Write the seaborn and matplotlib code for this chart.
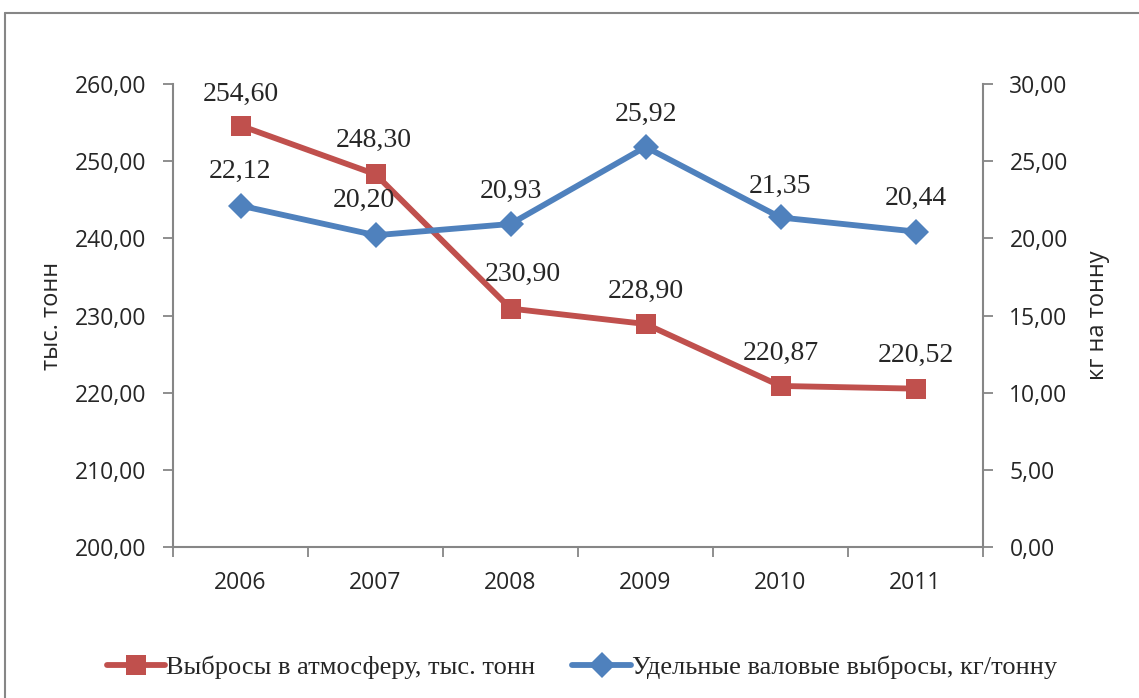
import pandas as pd
import numpy as np
import matplotlib
matplotlib.use("Agg")
import matplotlib.pyplot as plt
from matplotlib.ticker import FuncFormatter, FixedLocator
from matplotlib.lines import Line2D
import seaborn as sns

years = ["2006", "2007", "2008", "2009", "2010", "2011"]
emissions = [254.60, 248.30, 230.90, 228.90, 220.87, 220.52]   # тыс. тонн
specific = [22.12, 20.20, 20.93, 25.92, 21.35, 20.44]          # кг/тонну

label_red = "Выбросы в атмосферу, тыс. тонн"
label_blue = "Удельные валовые выбросы, кг/тонну"

red = "#C0504D"
blue = "#4F81BD"
grey = "#868686"

sns.set_style("white")
plt.rcParams['font.family'] = ['Open Sans', 'DejaVu Sans']

df = pd.DataFrame({"pos": np.arange(len(years)), "year": years,
                   "emissions": emissions, "specific": specific})

fig = plt.figure(figsize=(11.39, 6.98), dpi=100)
ax = fig.add_axes([173 / 1139, 1 - 547 / 698, 810 / 1139, 463 / 698])
ax2 = ax.twinx()

sns.lineplot(data=df, x="pos", y="emissions", ax=ax, color=red, lw=4.2,
             marker="s", markersize=14, markeredgewidth=0, zorder=3)
sns.lineplot(data=df, x="pos", y="specific", ax=ax2, color=blue, lw=4.2,
             marker="D", markersize=13, markeredgewidth=0, zorder=3)

ax.set_xlim(-0.5, len(years) - 0.5)
ax.set_ylim(200, 260)
ax2.set_ylim(0, 30)
ax.set_yticks(np.arange(200, 261, 10))
ax2.set_yticks(np.arange(0, 31, 5))

fmt = FuncFormatter(lambda v, p: f"{v:.2f}".replace(".", ","))
ax.yaxis.set_major_formatter(fmt)
ax2.yaxis.set_major_formatter(fmt)

# categories sit between the boundary ticks, Excel style
ax.xaxis.set_major_locator(FixedLocator(np.arange(-0.5, len(years), 1.0)))
ax.xaxis.set_minor_locator(FixedLocator(np.arange(len(years))))
ax.set_xticklabels([])
ax.set_xticklabels(years, minor=True)
ax.tick_params(axis="x", which="major", length=7, width=1.3, color=grey, direction="out", bottom=True)
ax.tick_params(axis="x", which="minor", length=0, labelsize=16.5, pad=17)
ax.tick_params(axis="y", length=7, width=1.3, color=grey, direction="out", left=True, labelsize=16.5, pad=12)
ax2.tick_params(axis="y", length=7, width=1.3, color=grey, direction="out", right=True, labelsize=16.5, pad=12)

for a in (ax, ax2):
    a.grid(False)
    a.spines["top"].set_visible(False)
    for s in ("left", "right", "bottom"):
        a.spines[s].set_color(grey)
        a.spines[s].set_linewidth(1.5)
ax2.spines["left"].set_visible(False)
ax2.spines["bottom"].set_visible(False)
ax.spines["right"].set_visible(False)

ax.set_xlabel("")
ax.set_ylabel("тыс. тонн", fontsize=17)
ax2.set_ylabel("кг на тонну", fontsize=17)
ax.yaxis.set_label_coords((52 - 173) / 810, 0.5)
ax2.yaxis.set_label_coords((1098 - 173) / 810, 0.5)
ax.yaxis.label.set_va("center")
ax2.yaxis.label.set_va("center")

serif = ['Liberation Serif', 'DejaVu Serif']
red_off = [(0, 25), (-2, 27), (12, 28), (0, 26), (0, 26), (0, 27)]
blue_off = [(0, 28), (-12, 28), (0, 26), (0, 26), (0, 25), (0, 27)]
for i in range(len(years)):
    ax.annotate(f"{emissions[i]:.2f}".replace(".", ","), (i, emissions[i]),
                xytext=red_off[i], textcoords="offset pixels",
                ha="center", va="baseline", fontsize=20, family=serif, zorder=5)
    ax2.annotate(f"{specific[i]:.2f}".replace(".", ","), (i, specific[i]),
                 xytext=blue_off[i], textcoords="offset pixels",
                 ha="center", va="baseline", fontsize=20, family=serif, zorder=5)

handles = [Line2D([], [], color=red, lw=4.2, marker="s", markersize=14, markeredgewidth=0),
           Line2D([], [], color=blue, lw=4.2, marker="D", markersize=13, markeredgewidth=0)]
fig.legend(handles, [label_red, label_blue], loc="center", bbox_to_anchor=(582 / 1139, 1 - 667 / 698),
           ncol=2, frameon=False, prop={'family': serif, 'size': 19},
           handlelength=2.2, handletextpad=0.05, columnspacing=1.4)

# outer chart frame
fig.add_artist(Line2D([5 / 1139, 5 / 1139], [0, 1 - 13 / 698], transform=fig.transFigure, color=grey, lw=1.5))
fig.add_artist(Line2D([5 / 1139, 1], [1 - 13 / 698, 1 - 13 / 698], transform=fig.transFigure, color=grey, lw=1.5))

fig.savefig("out.png", dpi=100)
